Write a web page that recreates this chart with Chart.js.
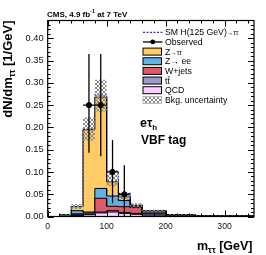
<!DOCTYPE html>
<html>
<head>
<meta charset="utf-8">
<script src="https://cdn.jsdelivr.net/npm/chart.js@4.4.0/dist/chart.umd.min.js"></script>
<style>
html,body{margin:0;padding:0;background:#fff;}
canvas{display:block;}
</style>
</head>
<body>
<canvas id="c" width="266" height="255"></canvas>
<script>
// ---- data (per GeV) ----
const edges   = [0, 20, 40, 60, 80, 100, 120, 140, 160, 200, 250, 350];
const qcd     = [0, 0.001, 0.002, 0.004, 0.008, 0.010, 0.007, 0.005, 0.003, 0.001, 0.0005];
const ttbar   = [0, 0.003, 0.002, 0.001, 0.002, 0.003, 0.002, 0.002, 0.003, 0.002, 0.0005];
const wjets   = [0, 0, 0.002, 0.003, 0.031, 0.010, 0.013, 0.013, 0.002, 0.001, 0];
const zee     = [0, 0, 0.007, 0.002, 0.022, 0.023, 0.014, 0.002, 0.004, 0, 0];
const ztt     = [0, 0, 0.009, 0.185, 0.205, 0.032, 0.008, 0.003, 0.001, 0, 0];
const signal  = [0, 0, 0, 0.001, 0.005, 0.024, 0.008, 0.002, 0.0005, 0, 0];
const uncLo   = [0, 0.003, 0.016, 0.170, 0.235, 0.068, 0.037, 0.020, 0.010, 0.003, 0.0005];
const uncHi   = [0, 0.005, 0.028, 0.222, 0.307, 0.098, 0.051, 0.030, 0.015, 0.005, 0.0015];
const obsX    = [70, 90, 110, 130];
const obsBinLo= [60, 80, 100, 120];
const obsBinHi= [80, 100, 120, 140];
const obs     = [0.25, 0.25, 0.10, 0.05];
const obsErrLo= [0.143, 0.135, 0.030, 0.0];
const obsErrHi= [0.365, 0.365, 0.172, 0.115];
const yTicks  = [0, 0.05, 0.10, 0.15, 0.20, 0.25, 0.30, 0.35, 0.40];
const xTicks  = [0, 100, 200, 300];

const colZtt = '#FFCC66', colZee = '#5FB3E4', colW = '#DE5A6A', colTT = '#9999CC', colQCD = '#FFCCFF';

function cum(...arrs){ return arrs[0].map((_, i) => arrs.reduce((s, a) => s + a[i], 0)); }
const c1 = cum(qcd), c2 = cum(qcd, ttbar), c3 = cum(qcd, ttbar, wjets),
      c4 = cum(qcd, ttbar, wjets, zee), c5 = cum(qcd, ttbar, wjets, zee, ztt),
      c6 = cum(qcd, ttbar, wjets, zee, ztt, signal);

function hist(vals){
  const p = [];
  vals.forEach((v, i) => { p.push({x: edges[i], y: v}); p.push({x: edges[i+1], y: v}); });
  return p;
}

const canvas = document.getElementById('c');
const ctx0 = canvas.getContext('2d');
const pc = document.createElement('canvas'); pc.width = 4; pc.height = 4;
const pg = pc.getContext('2d');
pg.fillStyle = '#8a8a8a';
[[0,0],[1,1],[2,2],[3,3],[3,0],[2,1],[1,2],[0,3]].forEach(([a,b]) => pg.fillRect(a, b, 1, 1));
const hatch = ctx0.createPattern(pc, 'repeat');

const FONT = '"Liberation Sans", Arial, Helvetica, sans-serif';

function layer(label, vals, color, order){
  return {label, data: hist(vals), backgroundColor: color, borderColor: '#000', borderWidth: 1,
          fill: 'origin', pointRadius: 0, tension: 0, order};
}

const datasets = [
  {label: 'SM H', data: hist(c6), borderColor: '#2a2aff', borderDash: [2, 1.5], borderWidth: 1.2,
   fill: false, pointRadius: 0, tension: 0, order: 20},
  layer('Z→ττ', c5, colZtt, 19),
  layer('Z→ee', c4, colZee, 18),
  layer('W+jets', c3, colW, 17),
  layer('tt', c2, colTT, 16),
  layer('QCD', c1, colQCD, 15),
  {label: 'uncLo', data: hist(uncLo), borderColor: 'rgba(0,0,0,0)', borderWidth: 1, fill: false,
   pointRadius: 0, tension: 0, order: 14},
  {label: 'unc', data: hist(uncHi), borderColor: 'rgba(0,0,0,0)', borderWidth: 1, fill: {target: 6},
   backgroundColor: hatch, pointRadius: 0, tension: 0, order: 13},
  {label: 'Observed', data: obsX.map((x, i) => ({x, y: obs[i]})), showLine: false,
   pointRadius: 2.6, pointBackgroundColor: '#000', pointBorderColor: '#000', order: 1}
];

function sub(ctx, parts, x, y){
  let cx = x;
  parts.forEach(([t, f, dy]) => { ctx.font = f; ctx.fillText(t, cx, y + dy); cx += ctx.measureText(t).width; });
  return cx;
}
function partsWidth(ctx, parts){
  let w = 0; parts.forEach(([t, f]) => { ctx.font = f; w += ctx.measureText(t).width; }); return w;
}

const hep = {
  id: 'hep',
  afterDatasetsDraw(chart){
    const {ctx, scales: {x, y}} = chart;
    ctx.save();
    ctx.strokeStyle = '#000'; ctx.lineWidth = 1.3;
    obsX.forEach((xv, i) => {
      const px = x.getPixelForValue(xv), py = y.getPixelForValue(obs[i]);
      ctx.beginPath();
      ctx.moveTo(px, y.getPixelForValue(obsErrLo[i])); ctx.lineTo(px, y.getPixelForValue(obsErrHi[i]));
      ctx.moveTo(x.getPixelForValue(obsBinLo[i]), py); ctx.lineTo(x.getPixelForValue(obsBinHi[i]), py);
      ctx.stroke();
    });
    ctx.restore();
  },
  afterDraw(chart){
    const {ctx, chartArea: a, scales: {x, y}} = chart;
    ctx.save();
    ctx.strokeStyle = '#000'; ctx.lineWidth = 1.2;
    ctx.strokeRect(a.left, a.top, a.right - a.left, a.bottom - a.top);
    ctx.lineWidth = 1;
    ctx.beginPath();
    for (let v = 0; v <= 0.44 + 1e-9; v += 0.01) {
      const major = Math.abs(Math.round(v * 20) - v * 20) < 1e-6;
      const L = major ? 6 : 3;
      const py = Math.round(y.getPixelForValue(v)) + 0.5;
      ctx.moveTo(a.left, py); ctx.lineTo(a.left + L, py);
      ctx.moveTo(a.right, py); ctx.lineTo(a.right - L, py);
    }
    for (let v = 0; v <= 350; v += 20) {
      const major = v % 100 === 0;
      const L = major ? 6 : 3;
      const px = Math.round(x.getPixelForValue(v)) + 0.5;
      ctx.moveTo(px, a.bottom); ctx.lineTo(px, a.bottom - L);
      ctx.moveTo(px, a.top); ctx.lineTo(px, a.top + L);
    }
    ctx.stroke();

    ctx.fillStyle = '#000';
    ctx.textBaseline = 'alphabetic'; ctx.textAlign = 'left';
    sub(ctx, [['CMS, 4.9 fb', 'bold 8px ' + FONT, 0], ['-1', 'bold 5.5px ' + FONT, -3.5],
              [' at 7 TeV', 'bold 8px ' + FONT, 0]], 47, 16.5);

    const yParts = [['dN/dm', 'bold 13px ' + FONT, 0], ['ττ', 'bold 8.5px ' + FONT, 3], [' [1/GeV]', 'bold 13px ' + FONT, 0]];
    ctx.save();
    ctx.translate(12, a.top);
    ctx.rotate(-Math.PI / 2);
    sub(ctx, yParts, -partsWidth(ctx, yParts), 0);
    ctx.restore();

    const xParts = [['m', 'bold 12.5px ' + FONT, 0], ['ττ', 'bold 8.5px ' + FONT, 3], [' [GeV]', 'bold 12.5px ' + FONT, 0]];
    sub(ctx, xParts, 252.5 - partsWidth(ctx, xParts), 249.5);

    sub(ctx, [['e', 'bold 12.5px ' + FONT, 0], ['τ', 'bold 12px ' + FONT, 0], ['h', 'bold 8px ' + FONT, 3]], 140, 127);
    sub(ctx, [['VBF tag', 'bold 12px ' + FONT, 0]], 141, 143.5);

    const lx0 = 143, lx1 = 161.5, tx = 165, y0 = 32.3, dy = 9.65;
    const lf = '8.7px ' + FONT;
    const rows = ['sig', 'obs', colZtt, colZee, colW, colTT, colQCD, 'unc'];
    const texts = [null, 'Observed', null, 'Z→ ee', 'W+jets', null, 'QCD', 'Bkg. uncertainty'];
    rows.forEach((r, i) => {
      const cy = y0 + i * dy;
      if (r === 'sig') {
        ctx.save(); ctx.strokeStyle = '#2a2aff'; ctx.lineWidth = 1.2; ctx.setLineDash([2, 1.5]);
        ctx.beginPath(); ctx.moveTo(lx0, cy); ctx.lineTo(lx1 + 1, cy); ctx.stroke(); ctx.restore();
      } else if (r === 'obs') {
        ctx.save(); ctx.strokeStyle = '#000'; ctx.lineWidth = 1.3;
        ctx.beginPath(); ctx.moveTo(lx0, cy); ctx.lineTo(lx1 + 1, cy); ctx.stroke();
        ctx.beginPath(); ctx.arc((lx0 + lx1) / 2 + 0.5, cy, 2.4, 0, Math.PI * 2); ctx.fill(); ctx.restore();
      } else if (r === 'unc') {
        ctx.save(); ctx.fillStyle = hatch; ctx.fillRect(lx0, cy - 3.5, lx1 - lx0, 7);
        ctx.strokeStyle = '#aaa'; ctx.lineWidth = 0.8; ctx.strokeRect(lx0, cy - 3.5, lx1 - lx0, 7); ctx.restore();
      } else {
        ctx.save(); ctx.fillStyle = r; ctx.fillRect(lx0, cy - 3.5, lx1 - lx0, 7);
        ctx.strokeStyle = '#000'; ctx.lineWidth = 1; ctx.strokeRect(lx0, cy - 3.5, lx1 - lx0, 7); ctx.restore();
      }
      const by = cy + 3.1;
      if (i === 0) {
        sub(ctx, [['SM H(125 GeV)', lf, 0], ['→ττ', '6.5px ' + FONT, 0]], tx, by);
      } else if (i === 2) {
        sub(ctx, [['Z', lf, 0], ['→ττ', '6.5px ' + FONT, 0]], tx, by);
      } else if (i === 5) {
        ctx.font = lf; ctx.fillText('tt', tx, by);
        const w1 = ctx.measureText('t').width, w2 = ctx.measureText('tt').width;
        ctx.fillRect(tx + w1 + 0.3, by - 7.2, w2 - w1 - 0.3, 0.8);
      } else {
        ctx.font = lf; ctx.fillText(texts[i], tx, by);
      }
    });
    ctx.restore();
  }
};

new Chart(canvas, {
  type: 'line',
  data: {datasets},
  options: {
    responsive: false, animation: false, devicePixelRatio: 1,
    layout: {padding: {left: 0, right: 12, top: 20.5, bottom: 0}},
    plugins: {legend: {display: false}, tooltip: {enabled: false}, title: {display: false}},
    elements: {line: {tension: 0}},
    scales: {
      x: {type: 'linear', min: 0, max: 350,
          afterFit: s => { s.height = 38.5; },
          afterBuildTicks: s => { s.ticks = xTicks.map(v => ({value: v})); },
          grid: {display: false, drawTicks: false},
          border: {display: false},
          ticks: {padding: 5, color: '#111', font: {family: FONT, size: 8.6}, callback: v => String(v), maxRotation: 0}},
      y: {type: 'linear', min: 0, max: 0.44,
          afterFit: s => { s.width = 47.7; },
          afterBuildTicks: s => { s.ticks = yTicks.map(v => ({value: v})); },
          grid: {display: false, drawTicks: false},
          border: {display: false},
          ticks: {padding: 4, color: '#111', font: {family: FONT, size: 9.3}, callback: v => v.toFixed(2)}}
    }
  },
  plugins: [hep]
});
</script>
</body>
</html>
